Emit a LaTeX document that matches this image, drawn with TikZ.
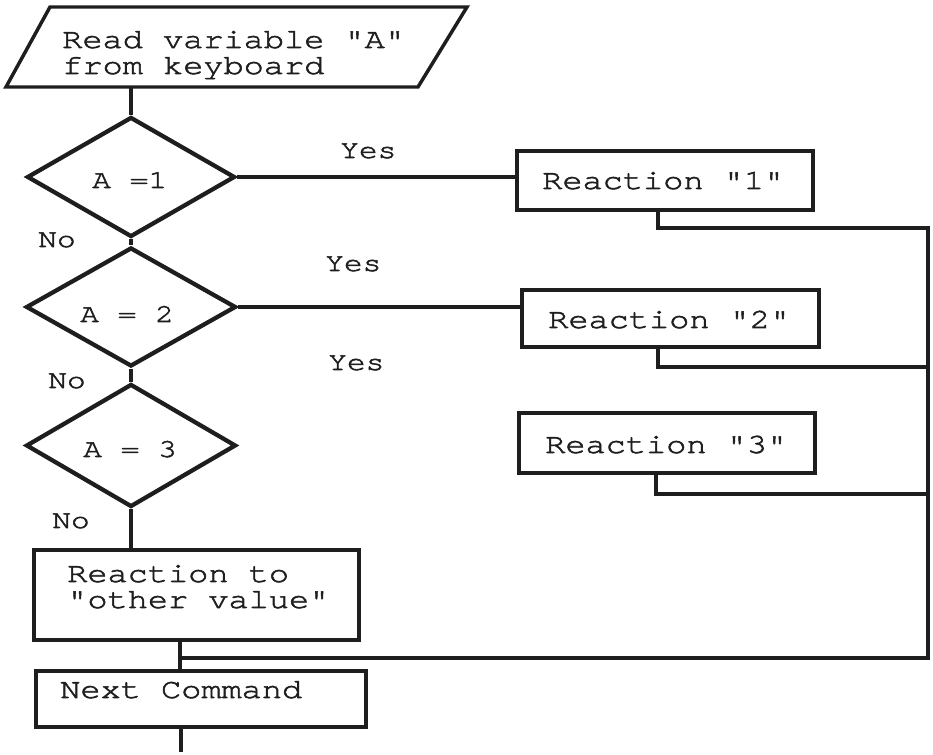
\documentclass[tikz,border=0pt]{standalone}
\usepackage{fontspec}
\setmonofont{texgyrecursor-regular.otf}[FakeStretch=1.2,FakeBold=2]
\usetikzlibrary{shapes.geometric}
\definecolor{inkc}{HTML}{1E1E1E}

\begin{document}
\begin{tikzpicture}[x=0.75pt,y=-0.75pt,
  line/.style={draw=inkc,line width=2.5pt},
  boxed/.style={rectangle,draw=inkc,line width=2.6pt,inner sep=0pt},
  decision/.style={diamond,draw=inkc,line width=3.2pt,inner sep=0pt},
  bigtext/.style={inner sep=0pt,anchor=base west,text=inkc,
    font=\fontsize{21}{19.5}\ttfamily,align=left},
  smalltext/.style={inner sep=0pt,anchor=base west,text=inkc,
    font=\fontsize{19.5}{19}\ttfamily}]
\useasboundingbox[fill=white] (0,0) rectangle (933,755);

% input block (parallelogram)
\coordinate (p1) at (50,7);
\coordinate (p2) at (467,7);
\coordinate (p3) at (418,87);
\coordinate (p4) at (6,87);
\draw[draw=inkc,line width=2.6pt] (p1) -- (p2) -- (p3) -- (p4) -- cycle;
\node[bigtext] (read) at (62,74) {Read variable "A"\\from keyboard};
\coordinate (readout) at (131,87);

% decisions
\node[decision,minimum width=156pt,minimum height=90pt] (d1) at (131,177) {};
\node[decision,minimum width=157.5pt,minimum height=89.25pt] (d2) at (131,307) {};
\node[decision,minimum width=157.5pt,minimum height=92.25pt] (d3) at (131,445.5) {};
\node[smalltext] (td1) at (92,188) {A =1};
\node[smalltext] (td2) at (80,322) {A = 2};
\node[smalltext] (td3) at (83,457) {A = 3};

% reactions
\node[boxed,minimum width=222pt,minimum height=44.25pt] (r1) at (665,180.5) {};
\node[boxed,minimum width=222.75pt,minimum height=42.75pt] (r2) at (670.5,318.5) {};
\node[boxed,minimum width=222pt,minimum height=45pt] (r3) at (667,443) {};
\node[bigtext] (tr1) at (542,189) {Reaction "1"};
\node[bigtext] (tr2) at (548,328) {Reaction "2"};
\node[bigtext] (tr3) at (545,453) {Reaction "3"};

\node[boxed,minimum width=243.75pt,minimum height=67.5pt] (other) at (196.5,595) {};
\node[bigtext] (tother) at (67,608) {Reaction to\\"other value"};
\node[boxed,minimum width=247.5pt,minimum height=42pt] (next) at (201,699) {};
\node[bigtext] (tnext) at (60,698) {Next Command};

% branch labels
\node[smalltext] (yes1) at (340,158) {Yes};
\node[smalltext] (yes2) at (325,271) {Yes};
\node[smalltext] (yes3) at (328,370) {Yes};
\node[smalltext] (no1) at (38,247) {No};
\node[smalltext] (no2) at (48,388) {No};
\node[smalltext] (no3) at (52,528) {No};

% junction points of the return lines
\coordinate (e1) at (658,228);
\coordinate (e2) at (658,367);
\coordinate (e3) at (656,494);
\coordinate (rt) at (928,228);
\coordinate (rb) at (928,658);
\coordinate (j) at (180,658);
\coordinate (exit) at (181,752);

% main flow
\draw[line] (readout) -- (d1.north);
\draw[line] (d1.south) -- (d2.north);
\draw[line] (d2.south) -- (d3.north);
\draw[line] (d3.south) -- (d3.south |- other.north);
\draw[line] (other.south -| j) -- (next.north -| j);
\draw[line] (next.south -| exit) -- (exit);

% yes branches
\draw[line] (d1.east) -- (d1.east -| r1.west);
\draw[line] (d2.east) -- (d2.east -| r2.west);

% return lines
\draw[line] (r1.south -| e1) -- (e1) -- (rt) -- (rb) -- (j);
\draw[line] (r2.south -| e2) -- (e2) -- (e2 -| rt);
\draw[line] (r3.south -| e3) -- (e3) -- (e3 -| rt);
\end{tikzpicture}
\end{document}
